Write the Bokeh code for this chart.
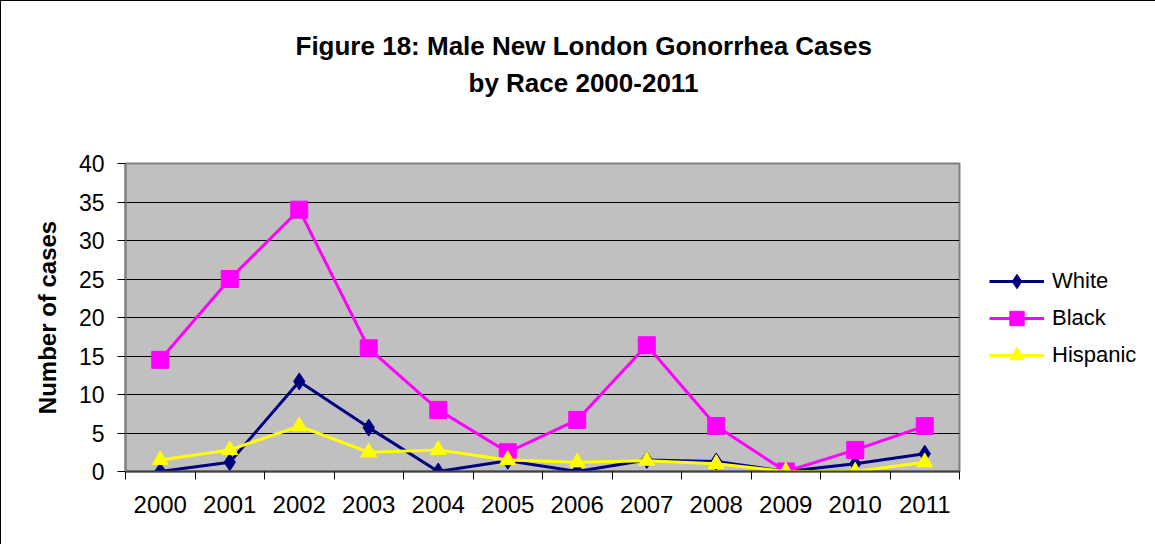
from bokeh.plotting import figure
from bokeh.models import Range1d, FixedTicker, Title, Legend, LegendItem
from bokeh.embed import file_html
from bokeh.resources import INLINE

years = ["2000", "2001", "2002", "2003", "2004", "2005",
         "2006", "2007", "2008", "2009", "2010", "2011"]
white = [0, 1.2, 11.7, 5.7, 0, 1.4, 0, 1.5, 1.3, 0, 1.0, 2.3]
black = [14.5, 25.0, 34.0, 16.0, 8.0, 2.5, 6.7, 16.4, 5.9, 0, 2.8, 5.9]
hispanic = [1.5, 2.8, 5.9, 2.5, 2.8, 1.5, 1.2, 1.4, 1.0, 0, 0, 1.2]
y_ticks = [0, 5, 10, 15, 20, 25, 30, 35, 40]

title_1 = "Figure 18: Male New London Gonorrhea Cases"
title_2 = "by Race 2000-2011"
y_title = "Number of cases"

FONT = "Liberation Sans"

x_pos = [i + 0.5 for i in range(len(years))]
bounds = list(range(len(years) + 1))

p = figure(frame_width=834, frame_height=308, output_backend="svg", toolbar_location=None,
           x_range=Range1d(0, len(years)), y_range=Range1d(y_ticks[0], y_ticks[-1]),
           min_border_left=124, min_border_right=192, min_border_top=162,
           min_border_bottom=73, title=None,
           styles={"border-left": "1px solid black", "border-top": "1px solid black"})

p.background_fill_color = "#C0C0C0"
p.border_fill_color = "white"
p.outline_line_color = "#808080"
p.outline_line_width = 2

# grid
p.xgrid.visible = False
p.ygrid.ticker = FixedTicker(ticks=y_ticks)
p.ygrid.grid_line_color = "black"
p.ygrid.grid_line_width = 1
p.ygrid.grid_line_alpha = 1

# y axis
p.yaxis.ticker = FixedTicker(ticks=y_ticks, minor_ticks=[])
p.yaxis.major_tick_out = 8
p.yaxis.major_tick_in = 0
p.yaxis.minor_tick_out = 0
p.yaxis.minor_tick_in = 0
p.yaxis.major_tick_line_color = "black"
p.yaxis.axis_line_color = "#808080"
p.yaxis.axis_line_width = 2
p.yaxis.major_label_text_font = FONT
p.yaxis.major_label_text_font_size = "23px"
p.yaxis.major_label_text_color = "black"
p.yaxis.major_label_standoff = 13
p.yaxis.axis_label = y_title
p.yaxis.axis_label_text_font = FONT
p.yaxis.axis_label_text_font_size = "24px"
p.yaxis.axis_label_text_font_style = "bold"
p.yaxis.axis_label_text_color = "black"
p.yaxis.axis_label_standoff = 15

# x axis
p.xaxis.ticker = FixedTicker(ticks=x_pos, minor_ticks=bounds)
p.xaxis.major_tick_out = 0
p.xaxis.major_tick_in = 0
p.xaxis.minor_tick_out = 8
p.xaxis.minor_tick_in = 0
p.xaxis.minor_tick_line_color = "black"
p.xaxis.axis_line_color = "#404040"
p.xaxis.axis_line_width = 2
p.xaxis.major_label_overrides = {x: y for x, y in zip(x_pos, years)}
p.xaxis.major_label_text_font = FONT
p.xaxis.major_label_text_font_size = "24px"
p.xaxis.major_label_text_color = "black"
p.xaxis.major_label_standoff = 16

series = [
    ("White", white, "#000080", "diamond", 17),
    ("Black", black, "#FF00FF", "square", 17),
    ("Hispanic", hispanic, "#FFFF00", "triangle", 16),
]

items = []
for name, vals, color, marker, size in series:
    ln = p.line(x_pos, vals, line_color=color, line_width=3)
    sc = p.scatter(x_pos, vals, marker=marker, size=size,
                   fill_color=color, line_color=color)
    items.append(LegendItem(label=name, renderers=[ln, sc]))

legend = Legend(items=items, location=(30, 98), orientation="vertical",
                padding=0, margin=0, spacing=1, glyph_width=55, glyph_height=36,
                label_height=20, label_standoff=8,
                label_text_font=FONT, label_text_font_size="22px",
                label_text_color="black",
                border_line_alpha=0, background_fill_alpha=0)
p.add_layout(legend, "right")

# spacer between frame and title lines
p.add_layout(Title(text=" ", text_font_size="2px", standoff=62), "above")
p.add_layout(Title(text=title_2, align="left", offset=343, text_font=FONT,
                   text_font_size="26px", text_font_style="bold",
                   text_color="black", standoff=0), "above")
p.add_layout(Title(text=title_1, align="left", offset=170, text_font=FONT,
                   text_font_size="26px", text_font_style="bold",
                   text_color="black", standoff=10), "above")

open("out.html", "w").write(file_html(p, INLINE))
